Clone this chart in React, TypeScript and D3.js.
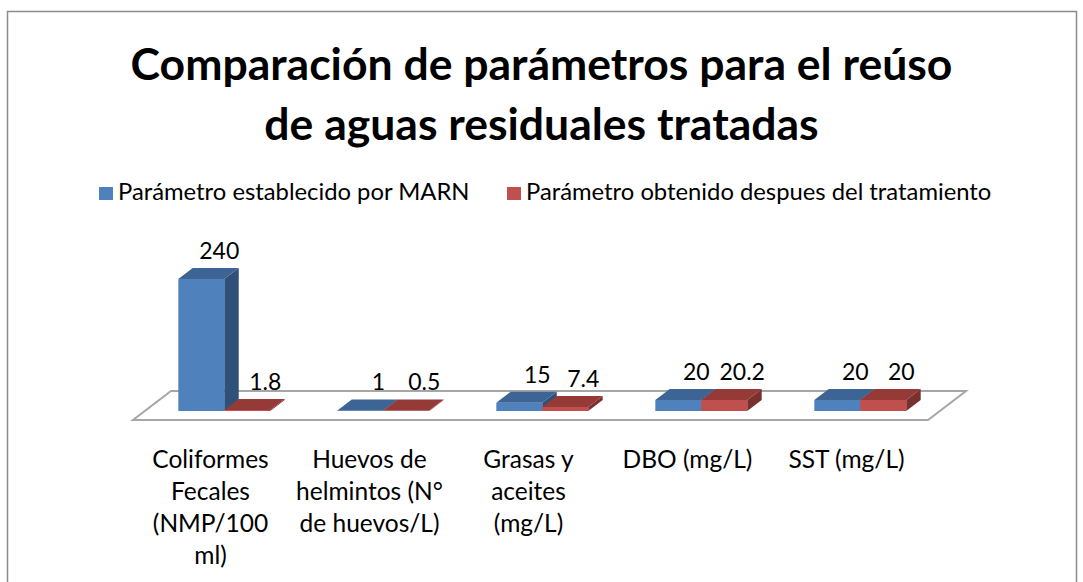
import { useEffect, useRef } from "react";
import * as d3 from "d3";

const categories = [
  "Coliformes Fecales (NMP/100 ml)",
  "Huevos de helmintos (N° de huevos/L)",
  "Grasas y aceites (mg/L)",
  "DBO (mg/L)",
  "SST (mg/L)",
];
const categoryLines = [
  ["Coliformes", "Fecales", "(NMP/100", "ml)"],
  ["Huevos de", "helmintos (N°", "de huevos/L)"],
  ["Grasas y", "aceites", "(mg/L)"],
  ["DBO (mg/L)"],
  ["SST (mg/L)"],
];
const seriesNames = [
  "Parámetro establecido por MARN",
  "Parámetro obtenido despues del tratamiento",
];
const marnValues = [240, 1, 15, 20, 20];
const obtainedValues = [1.8, 0.5, 7.4, 20.2, 20];
const titleLines = ["Comparación de parámetros para el reúso", "de aguas residuales tratadas"];

const palette = [
  { front: "#4F81BD", top: "#3C6494", side: "#2F5078" },
  { front: "#C0504D", top: "#963A38", side: "#7A302E" },
];

const W = 1083;
const H = 582;
const FONT = "Lato, 'Open Sans', sans-serif";

export default function App() {
  const svgRef = useRef<SVGSVGElement>(null);

  useEffect(() => {
    if (!svgRef.current) return;
    const svg = d3.select(svgRef.current);
    svg.selectAll("*").remove();

    // chart frame
    svg
      .append("rect")
      .attr("x", 7.5)
      .attr("y", 11.5)
      .attr("width", 1069)
      .attr("height", 620)
      .attr("fill", "white")
      .attr("stroke", "#8c8c8c")
      .attr("stroke-width", 1.5);

    // title
    svg
      .append("g")
      .selectAll("text")
      .data(titleLines)
      .enter()
      .append("text")
      .attr("x", W / 2)
      .attr("y", (_, i) => 80 + i * 60)
      .attr("text-anchor", "middle")
      .attr("font-family", FONT)
      .attr("font-weight", "bold")
      .attr("font-size", 44.5)
      .attr("fill", "#000")
      .text((d) => d);

    // legend
    const legendX = [99, 507];
    const legend = svg
      .append("g")
      .selectAll("g")
      .data(seriesNames)
      .enter()
      .append("g")
      .attr("transform", (_, i) => `translate(${legendX[i]},187)`);
    legend
      .append("rect")
      .attr("width", 14)
      .attr("height", 13)
      .attr("fill", (_, i) => palette[i].front);
    legend
      .append("text")
      .attr("x", 19)
      .attr("y", 13)
      .attr("font-family", FONT)
      .attr("font-size", 23.8)
      .attr("fill", "#000")
      .text((d) => d);

    // 3D floor
    const floorLeft = 133;
    const floorRight = 928;
    const floorY = 420;
    const depthX = 38;
    const depthY = 29;
    svg
      .append("polygon")
      .attr(
        "points",
        [
          [floorLeft, floorY],
          [floorRight, floorY],
          [floorRight + depthX, floorY - depthY],
          [floorLeft + depthX, floorY - depthY],
        ]
          .map((p) => p.join(","))
          .join(" ")
      )
      .attr("fill", "white")
      .attr("stroke", "#a6a6a6")
      .attr("stroke-width", 2);

    const x = d3.scaleBand<string>().domain(categories).range([floorLeft, floorRight]);
    const inner = d3
      .scaleBand<string>()
      .domain(seriesNames)
      .range([0, x.bandwidth()])
      .paddingInner(0)
      .paddingOuter(0.73);
    const y = d3.scaleLinear().domain([0, 240]).range([0, 132]);

    const frontFrac = 0.31;
    const barDepth = 0.38;
    const bdx = depthX * barDepth;
    const bdy = depthY * barDepth;
    const baseY = floorY - depthY * frontFrac;

    const bars = categories.flatMap((c, ci) =>
      [marnValues[ci], obtainedValues[ci]].map((v, si) => ({ c, ci, si, v }))
    );

    const g = svg.append("g");
    bars.forEach((b) => {
      const x0 = (x(b.c) ?? 0) + (inner(seriesNames[b.si]) ?? 0) + depthX * frontFrac;
      const w = inner.bandwidth();
      const h = Math.max(y(b.v), 0.6);
      const top = baseY - h;
      const col = palette[b.si];
      const bar = g.append("g");
      bar
        .append("polygon")
        .attr(
          "points",
          [
            [x0 + w, baseY],
            [x0 + w + bdx, baseY - bdy],
            [x0 + w + bdx, top - bdy],
            [x0 + w, top],
          ]
            .map((p) => p.join(","))
            .join(" ")
        )
        .attr("fill", col.side);
      bar
        .append("rect")
        .attr("x", x0)
        .attr("y", top)
        .attr("width", w)
        .attr("height", h)
        .attr("fill", col.front);
      bar
        .append("polygon")
        .attr(
          "points",
          [
            [x0, top],
            [x0 + w, top],
            [x0 + w + bdx, top - bdy],
            [x0 + bdx, top - bdy],
          ]
            .map((p) => p.join(","))
            .join(" ")
        )
        .attr("fill", col.top);
      // data label
      bar
        .append("text")
        .attr("x", x0 + w / 2 + 18)
        .attr("y", top - bdy - 9)
        .attr("text-anchor", "middle")
        .attr("font-family", FONT)
        .attr("font-size", 23)
        .attr("fill", "#000")
        .text(String(b.v));
    });

    // category labels
    const labels = svg
      .append("g")
      .selectAll("text")
      .data(categories)
      .enter()
      .append("text")
      .attr("x", (d) => (x(d) ?? 0) + x.bandwidth() / 2 - 2)
      .attr("y", 468)
      .attr("text-anchor", "middle")
      .attr("font-family", FONT)
      .attr("font-size", 24.5)
      .attr("fill", "#000");
    labels
      .selectAll("tspan")
      .data((_, i) => categoryLines[i])
      .enter()
      .append("tspan")
      .attr("x", function () {
        return (this.parentNode as SVGTextElement).getAttribute("x");
      })
      .attr("dy", (_, i) => (i === 0 ? 0 : 32))
      .text((d) => d);
  }, []);

  return (
    <svg
      ref={svgRef}
      width={W}
      height={H}
      viewBox={`0 0 ${W} ${H}`}
      style={{ position: "absolute", left: 0, top: 0, background: "white" }}
    />
  );
}
